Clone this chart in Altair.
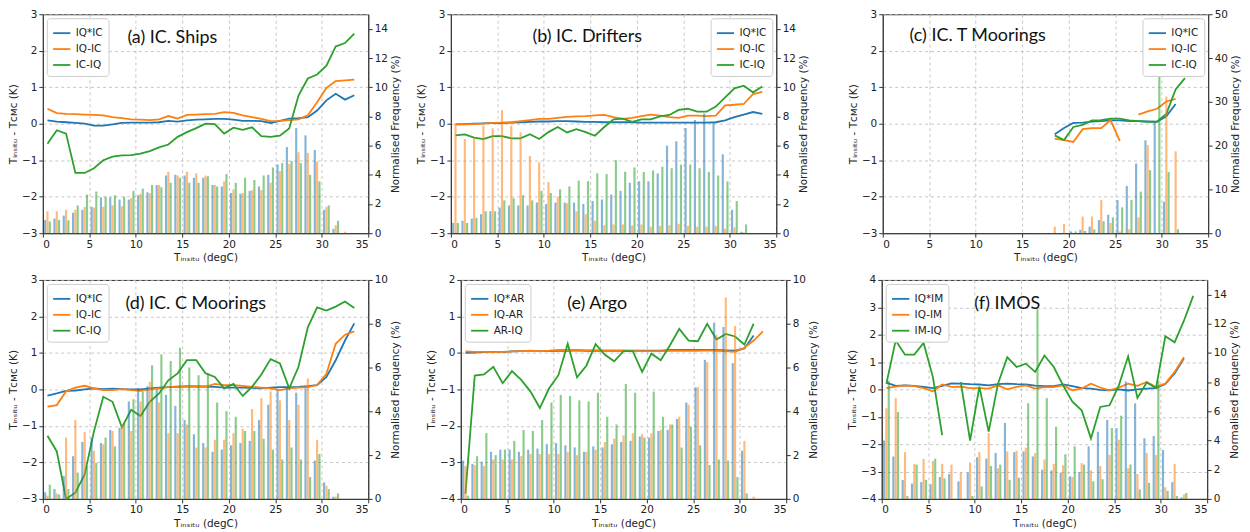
import altair as alt
import pandas as pd

BLUE, ORANGE, GREEN = "#1f77b4", "#ff7f0e", "#2ca02c"
FONT = "DejaVu Sans"

# bin centres (degC)
xc = [i + 0.5 for i in range(34)]
N = None

# ---------------- (a) IC. Ships ----------------
a_blue = [0.09,0.06,0.04,0.02,0.0,-0.05,-0.05,-0.02,0.02,0.03,0.03,0.03,0.04,0.08,0.06,0.09,0.11,0.12,0.13,0.13,0.11,0.08,0.08,0.07,0.02,0.08,0.14,0.15,0.18,0.36,0.64,0.82,0.66,0.78]
a_orange = [0.41,0.29,0.27,0.26,0.25,0.24,0.23,0.18,0.15,0.12,0.11,0.10,0.12,0.21,0.14,0.24,0.25,0.26,0.27,0.32,0.30,0.23,0.18,0.13,0.07,0.08,0.10,0.12,0.23,0.59,0.98,1.17,1.19,1.21]
a_green = [-0.55,-0.18,-0.27,-1.35,-1.35,-1.22,-1.0,-0.9,-0.87,-0.86,-0.82,-0.75,-0.65,-0.57,-0.36,-0.23,-0.12,0.0,-0.01,-0.27,-0.11,-0.17,-0.10,-0.34,-0.36,-0.33,-0.13,0.77,1.24,1.35,1.59,2.12,2.21,2.47]
a_bb = [0.9,1.0,1.2,1.4,1.6,1.8,2.45,2.45,2.3,2.3,2.6,2.8,3.3,3.95,4.0,3.95,3.8,3.8,3.3,3.2,2.75,2.7,2.9,3.2,4.0,4.7,5.9,7.2,6.7,5.7,1.6,0.3,0,0]
a_ob = [1.5,1.5,1.6,1.6,1.8,1.75,1.8,1.9,1.85,2.4,2.7,2.75,3.3,4.2,3.95,4.2,4.1,3.95,3.3,3.55,3.0,2.75,2.95,2.95,3.45,4.25,4.75,5.55,5.5,4.9,1.8,0.55,0.1,0]
a_gb = [0.8,0.9,0.88,1.9,2.65,2.85,2.5,2.6,2.5,2.9,3.05,3.3,3.15,3.45,3.8,3.45,3.45,3.9,3.2,4.05,3.45,3.8,3.65,3.95,4.5,4.8,4.95,4.8,4.0,3.55,1.9,0.85,0,0]

# ---------------- (b) IC. Drifters ----------------
b_blue = [-0.02,-0.01,0.0,0.01,0.02,0.02,0.03,0.04,0.05,0.06,0.06,0.07,0.07,0.06,0.05,0.05,0.04,0.04,0.04,0.04,0.03,0.03,0.03,0.03,0.03,0.03,0.03,0.03,0.04,0.09,0.18,0.25,0.32,0.27]
b_orange = [-0.02,-0.02,-0.01,0.0,0.02,0.03,0.04,0.07,0.10,0.13,0.13,0.16,0.19,0.20,0.21,0.23,0.24,0.18,0.13,0.16,0.21,0.25,0.22,0.18,0.16,0.22,0.22,0.21,0.22,0.50,0.52,0.54,0.81,0.87]
b_green = [-0.32,-0.29,-0.38,-0.42,-0.34,-0.34,-0.40,-0.40,-0.29,-0.42,-0.23,-0.09,-0.24,-0.15,-0.23,-0.33,-0.09,0.12,0.14,0.05,0.12,0.12,0.20,0.24,0.38,0.41,0.33,0.33,0.47,0.72,0.97,1.04,0.86,1.02]
b_bb = [0.7,0.85,1.0,1.3,1.5,1.75,1.9,1.9,1.9,2.1,2.0,2.1,2.1,2.1,2.0,2.2,2.3,2.65,2.9,3.45,3.55,3.55,4.1,6.0,6.3,7.2,7.75,8.2,7.6,5.4,1.6,0.1,0,0]
b_ob = [7.5,6.45,6.55,7.36,7.18,8.43,7.36,6.9,5.3,4.86,3.5,2.5,2.05,1.5,1.3,0.85,0.55,0.6,0.6,0.55,0.6,0.45,0.5,0.55,0.65,0.5,0.45,0.45,0.5,0.3,0.4,0.05,0,0]
b_gb = [0.7,0.7,1.05,1.5,1.5,2.25,2.4,2.6,2.25,2.9,2.75,3.0,3.2,3.6,3.55,4.1,4.05,5.0,4.2,4.5,4.2,4.3,4.55,4.45,4.7,4.7,4.45,4.2,3.95,3.55,2.2,0.6,0,0]

# ---------------- (c) IC. T Moorings ----------------
c_blue = [N]*18 + [-0.29,-0.12,0.02,0.03,0.06,0.07,0.09,0.09,0.07,0.07,0.06,0.05,0.20,0.54,N,N]
c_orange = [N]*18 + [-0.41,-0.45,-0.50,-0.15,-0.12,-0.12,0.10,-0.48,N,0.25,0.34,0.41,0.61,0.68,N,N]
c_green = [N]*18 + [-0.32,-0.45,-0.09,-0.03,0.09,0.10,0.14,0.14,0.09,0.07,0.05,0.06,0.27,0.94,1.25,N]
c_bb = [0]*18 + [0,0,0.4,0.8,1.5,3.0,4.2,7.6,10.8,15.9,21.2,25.4,7.2,0,0,0]
c_ob = [0]*18 + [1.5,2.1,0,3.8,3.8,7.6,2.3,0.4,0.9,3.6,20.1,0,31.2,18.7,0,0]
c_gb = [0]*18 + [0,0,0.4,0.5,0.9,2.7,3.6,5.9,7.6,9.5,14.4,39.8,14.0,0.9,0,0]

# ---------------- (d) IC. C Moorings ----------------
d_blue = [-0.17,-0.11,-0.04,-0.03,0.0,0.03,0.01,0.02,0.01,0.0,0.0,0.03,0.05,0.06,0.07,0.08,0.08,0.08,0.07,0.05,0.05,0.05,0.04,0.03,0.05,0.06,0.06,0.07,0.09,0.12,0.34,0.80,1.34,1.81]
d_orange = [-0.47,-0.43,-0.05,0.05,0.10,0.03,-0.02,-0.02,0.01,-0.02,-0.04,0.0,0.03,0.06,0.08,0.09,0.08,0.07,0.15,0.12,0.12,0.10,0.07,0.05,0.03,-0.02,0.03,0.05,0.06,0.12,0.43,1.25,1.50,1.59]
d_green = [-1.27,-1.70,-3.0,-2.83,-2.33,-1.15,-0.20,-0.34,-1.04,-0.56,-0.73,-0.34,-0.11,0.25,0.44,0.80,0.80,0.44,0.34,0.03,0.15,-0.18,0.07,0.41,0.83,0.71,0.03,0.62,1.70,2.25,2.16,2.27,2.41,2.23]
d_bb = [0.3,0.45,1.05,1.95,2.6,2.8,2.55,3.15,3.25,4.45,5.05,5.15,5.0,4.75,4.25,3.6,2.95,2.55,2.15,2.25,2.45,2.55,2.65,3.6,4.3,4.95,5.1,4.85,5.05,1.75,0.75,0.1,0,0]
d_ob = [0.15,0.25,2.8,3.6,3.05,2.2,2.5,3.1,3.4,3.1,4.45,5.35,4.4,3.0,3.0,3.4,2.35,2.35,2.7,2.7,3.0,3.2,4.1,4.6,4.9,4.5,3.6,4.3,5.5,2.7,0.6,0.1,0,0]
d_gb = [0.65,0.2,0.45,1.2,1.5,1.65,2.8,2.4,3.45,4.55,4.9,6.1,6.6,6.3,6.9,6.0,5.65,5.75,4.4,4.0,3.75,3.1,3.1,2.75,2.25,1.8,2.35,1.8,1.0,2.05,0.45,0.25,0,0]

# ---------------- (e) Argo ----------------
e_blue = [0.0,0.01,0.02,0.03,0.03,0.04,0.05,0.05,0.05,0.05,0.06,0.06,0.07,0.06,0.06,0.06,0.06,0.06,0.06,0.06,0.06,0.06,0.08,0.08,0.08,0.08,0.08,0.08,0.07,0.06,0.12,0.48,N,N]
e_orange = [0.04,0.03,0.03,0.02,0.03,0.04,0.05,0.06,0.05,0.06,0.08,0.08,0.08,0.07,0.07,0.06,0.06,0.06,0.05,0.05,0.05,0.05,0.06,0.06,0.06,0.06,0.07,0.06,0.05,0.03,0.14,0.34,0.59,N]
e_green = [-3.86,-0.62,-0.59,-0.38,-0.83,-0.50,-0.74,-1.06,-1.51,-0.97,-0.61,0.25,-0.67,-0.35,0.24,-0.05,-0.23,0.05,0.05,-0.52,-0.02,-0.20,0.21,0.66,0.34,0.32,0.80,0.37,0.52,0.45,0.23,0.80,N,N]
e_bb = [1.75,1.6,1.7,2.15,2.25,2.25,2.15,2.25,2.3,2.5,2.55,2.45,2.35,2.15,2.4,2.35,2.5,2.6,2.65,2.85,2.8,3.1,3.15,3.65,4.4,5.1,6.35,8.05,7.85,6.2,2.2,0,0,0]
e_ob = [1.5,1.55,1.5,1.8,1.8,1.8,1.95,2.05,2.05,2.05,2.05,2.15,2.0,2.15,2.25,2.6,2.75,2.9,3.0,2.95,3.0,3.15,3.4,3.75,4.3,5.1,6.25,7.5,9.2,7.9,2.65,0.1,0,0]
e_gb = [0.15,1.95,3.0,2.0,2.25,2.65,3.15,3.1,3.6,4.4,4.75,4.7,4.5,4.45,4.85,3.75,3.4,5.25,4.85,2.8,4.9,3.75,3.4,2.35,3.3,2.45,1.55,1.8,1.75,1.0,0.25,0,0,0]

# ---------------- (f) IMOS ----------------
f_blue = [0.25,0.13,0.15,0.13,0.09,0.05,0.13,0.22,0.21,0.19,0.18,0.15,0.19,0.21,0.19,0.18,0.14,0.12,0.12,0.18,0.12,0.05,0.03,-0.02,-0.03,0.0,-0.04,0.0,0.03,0.05,0.20,0.58,1.14,N]
f_orange = [0.05,0.10,0.15,0.12,0.05,-0.07,0.18,0.09,0.10,0.05,0.05,0.03,0.15,0.0,0.09,0.15,0.03,0.08,0.08,0.15,-0.03,0.03,0.21,0.07,-0.03,0.07,0.21,0.13,0.27,0.09,0.21,0.64,1.18,N]
f_green = [0.21,1.79,1.27,1.27,1.70,0.45,-1.67,N,0.27,-1.87,0.10,-1.54,0.21,1.18,0.82,0.94,0.64,1.24,0.82,0.15,-0.45,-0.76,-1.79,-0.64,-0.58,0.15,1.21,-0.31,0.25,0.05,1.94,1.72,2.51,3.42]
f_bb = [4.0,2.9,1.3,1.05,1.15,1.0,1.5,1.7,1.2,1.8,2.85,2.75,3.15,5.2,3.2,3.25,2.9,2.0,1.95,1.8,1.55,1.85,3.6,4.6,5.4,4.85,8.05,6.55,4.15,4.3,3.35,1.15,0.1,0]
f_ob = [6.2,6.9,3.2,2.4,2.75,2.6,2.4,2.35,1.8,2.5,3.2,4.5,2.1,3.25,3.3,3.5,3.15,2.7,2.4,2.3,1.5,2.45,1.95,2.25,3.0,4.05,2.1,1.7,3.15,3.0,0.8,2.4,0.3,0]
f_gb = [8.1,5.95,0.2,2.35,1.3,2.75,1.4,0,0,0.2,0.85,2.25,2.35,1.3,1.45,6.55,13.0,6.9,4.95,3.05,3.6,2.35,1.2,1.35,4.85,5.7,2.35,0.65,1.1,8.1,0.55,0.2,0.4,0]

panels = [
    dict(title="(a) IC. Ships", names=["IQ*IC", "IQ-IC", "IC-IQ"],
         lines=[a_blue, a_orange, a_green], bars=[a_bb, a_ob, a_gb],
         ydom=[-3, 3], fdom=[0, 15], fticks=list(range(0, 15, 2)), legend="top-left", tx=85, ty=29),
    dict(title="(b) IC. Drifters", names=["IQ*IC", "IQ-IC", "IC-IQ"],
         lines=[b_blue, b_orange, b_green], bars=[b_bb, b_ob, b_gb],
         ydom=[-3, 3], fdom=[0, 15], fticks=list(range(0, 15, 2)), legend="top-right", tx=82, ty=28),
    dict(title="(c) IC. T Moorings", names=["IQ*IC", "IQ-IC", "IC-IQ"],
         lines=[c_blue, c_orange, c_green], bars=[c_bb, c_ob, c_gb],
         ydom=[-3, 3], fdom=[0, 50], fticks=list(range(0, 51, 10)), legend="top-right", tx=27, ty=27),
    dict(title="(d) IC. C Moorings", names=["IQ*IC", "IQ-IC", "IC-IQ"],
         lines=[d_blue, d_orange, d_green], bars=[d_bb, d_ob, d_gb],
         ydom=[-3, 3], fdom=[0, 10], fticks=list(range(0, 11, 2)), legend="top-left", tx=83, ty=29),
    dict(title="(e) Argo", names=["IQ*AR", "IQ-AR", "AR-IQ"],
         lines=[e_blue, e_orange, e_green], bars=[e_bb, e_ob, e_gb],
         ydom=[-4, 2], fdom=[0, 10], fticks=list(range(0, 11, 2)), legend="top-left", tx=107, ty=29),
    dict(title="(f) IMOS", names=["IQ*IM", "IQ-IM", "IM-IQ"],
         lines=[f_blue, f_orange, f_green], bars=[f_bb, f_ob, f_gb],
         ydom=[-4, 4], fdom=[0, 15], fticks=list(range(0, 15, 2)), legend="top-left", tx=93, ty=29),
]

W, H = 327, 220
OFFS = [-0.25, 0.0, 0.25]
BW = 0.23
GRID = dict(grid=True, gridDash=[3, 3], gridColor="#b8b8b8", gridWidth=0.8)


def make_panel(p):
    names = p["names"]
    lrows, brows = [], []
    for k, (name, ls, bs) in enumerate(zip(names, p["lines"], p["bars"])):
        seg = 0
        for x, v in zip(xc, ls):
            if v is None:
                seg += 1
                continue
            lrows.append({"x": x, "v": v, "s": name, "seg": f"{k}-{seg}"})
        for x, b in zip(xc, bs):
            if b and b > 0:
                brows.append({"x0": x + OFFS[k] - BW / 2, "x1": x + OFFS[k] + BW / 2, "f": b, "s": name})
    ldf = pd.DataFrame(lrows)
    bdf = pd.DataFrame(brows)
    cscale = alt.Scale(domain=names, range=[BLUE, ORANGE, GREEN])
    xaxis = alt.Axis(values=list(range(0, 36, 5)), title="Tᵢₙₛᵢₜᵤ (degC)", **GRID)
    xscale = alt.Scale(domain=[0, 35], nice=False, zero=False)
    y0, y1 = p["ydom"]
    lines = alt.Chart(ldf).mark_line(strokeWidth=1.8).encode(
        x=alt.X("x:Q", scale=xscale, axis=xaxis),
        y=alt.Y("v:Q", scale=alt.Scale(domain=[y0, y1], nice=False),
                axis=alt.Axis(orient="left", values=list(range(y0, y1 + 1)),
                              title="Tᵢₙₛᵢₜᵤ - Tᴄᴍᴄ (K)", **GRID)),
        color=alt.Color("s:N", scale=cscale,
                        legend=alt.Legend(title=None, orient=p["legend"], offset=4,
                                          fillColor="white", strokeColor="#cccccc",
                                          cornerRadius=3, padding=5,
                                          symbolType="stroke", symbolStrokeWidth=1.8,
                                          symbolSize=300, rowPadding=0,
                                          labelFontSize=10.5, labelFont=FONT)),
        detail="seg:N",
        order="x:Q",
    )
    bars = alt.Chart(bdf).mark_rect(opacity=0.55).encode(
        x=alt.X("x0:Q", scale=xscale, axis=xaxis),
        x2="x1:Q",
        y=alt.Y("f:Q", scale=alt.Scale(domain=p["fdom"], nice=False),
                axis=alt.Axis(orient="right", values=p["fticks"], grid=False,
                              title="Normalised Frequency (%)", titleAngle=270, titleBaseline="top")),
        y2=alt.datum(0),
        color=alt.Color("s:N", scale=cscale, legend=None),
    )
    txt = alt.Chart(pd.DataFrame({"t": [p["title"]]})).mark_text(
        align="left", baseline="alphabetic", font="Lato", fontSize=18, color="#111"
    ).encode(x=alt.value(p["tx"]), y=alt.value(p["ty"]), text="t:N")
    return alt.layer(lines, bars, txt).resolve_scale(y="independent").properties(width=W, height=H)


P = [make_panel(p) for p in panels]


def row(c1, c2, c3, s1, s2):
    inner = alt.hconcat(c1, c2, spacing=s1).resolve_scale(color="independent")
    return alt.hconcat(inner, c3, spacing=s2).resolve_scale(color="independent")


top = row(P[0], P[1], P[2], 14, 38)
bottom = row(P[3], P[4], P[5], 24, 27)

chart = alt.vconcat(top, bottom, spacing=10).resolve_scale(
    color="independent"
).properties(
    padding={"left": 0, "top": -1, "right": 0, "bottom": 0}
).configure_view(
    stroke="#333333", strokeWidth=1
).configure_axis(
    labelFont=FONT, labelFontSize=10.5, titleFont=FONT, titleFontSize=10.5,
    titleFontWeight="normal", labelColor="#222222", titleColor="#222222",
    domainColor="#333333", tickColor="#333333", tickSize=4, labelPadding=2, titlePadding=3,
).configure_legend(
    labelColor="#222222"
)

chart.save("out.html", embed_options={"renderer": "svg", "actions": False})
